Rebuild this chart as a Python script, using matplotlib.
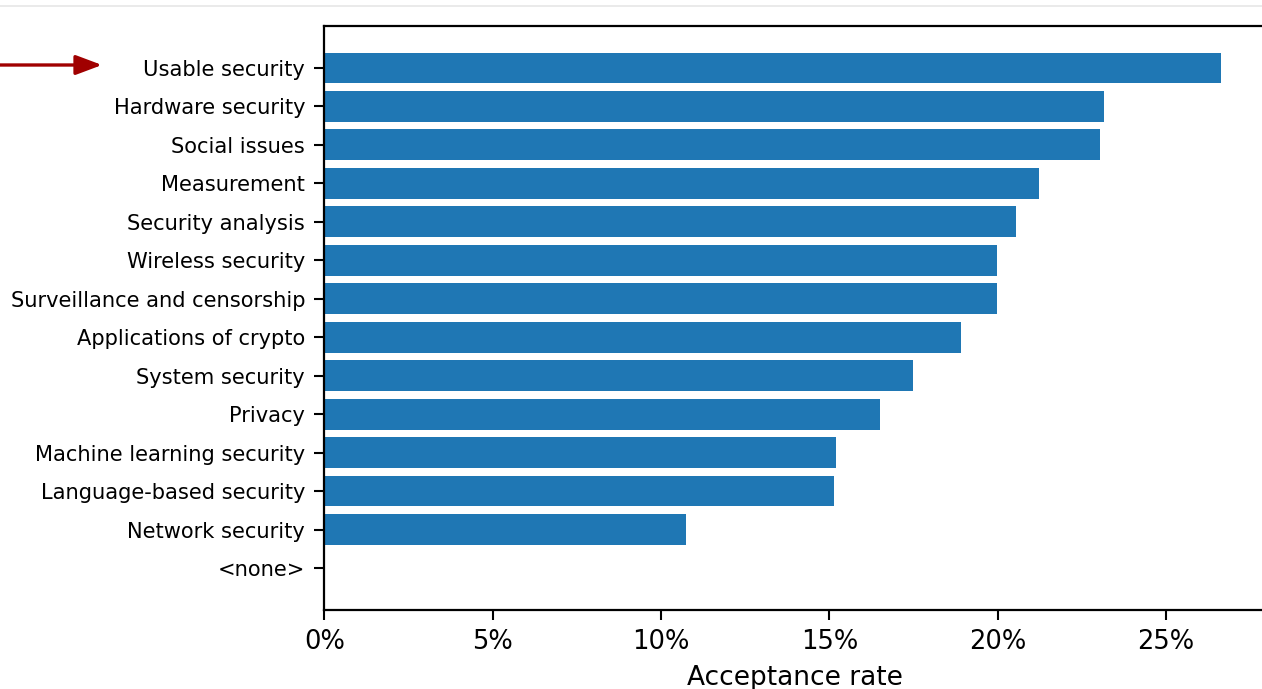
import matplotlib
matplotlib.use("Agg")
import matplotlib.pyplot as plt
from matplotlib.ticker import PercentFormatter
from matplotlib.lines import Line2D

# topics, sorted from top to bottom
topics = ["Usable security", "Hardware security", "Social issues", "Measurement",
          "Security analysis", "Wireless security", "Surveillance and censorship",
          "Applications of crypto", "System security", "Privacy",
          "Machine learning security", "Language-based security",
          "Network security", "<none>"]
# acceptance rates in %
rates = [26.64, 23.16, 23.05, 21.23, 20.55, 19.98, 19.98,
         18.91, 17.49, 16.51, 15.20, 15.14, 10.74, 0.0]

fig = plt.figure(figsize=(12.62, 6.89), dpi=100)
ax = fig.add_axes([0.2571, 0.1147, 0.7462, 0.8476])

# barh draws bottom-up, so flip the order
ax.barh(topics[::-1], rates[::-1], color="#1f77b4", height=0.8)

ax.xaxis.set_major_formatter(PercentFormatter(decimals=0))
ax.set_xticks([0, 5, 10, 15, 20, 25])
ax.tick_params(axis="y", labelsize=15.1, length=7, width=1.5, pad=7)
ax.tick_params(axis="x", labelsize=18.5, length=7, width=1.5, pad=7)
ax.set_xlabel("Acceptance rate", fontsize=19, labelpad=7)
for s in ax.spines.values():
    s.set_linewidth(1.6)

# red arrow pointing at the first topic
ya = 1 - 65 / 689
ax.annotate("", xy=(102 / 1262, ya), xytext=(0, ya),
            xycoords="figure fraction", textcoords="figure fraction",
            arrowprops=dict(arrowstyle="-|>,head_length=1.6,head_width=0.6",
                            color="#a00000", lw=2.4, shrinkA=0, shrinkB=0))

# light separator at the very top (screenshot edge)
fig.add_artist(Line2D([0, 1], [1 - 6 / 689] * 2, color="#e6e6e6", lw=1.2,
                      transform=fig.transFigure))

fig.savefig("out.png", dpi=100)
